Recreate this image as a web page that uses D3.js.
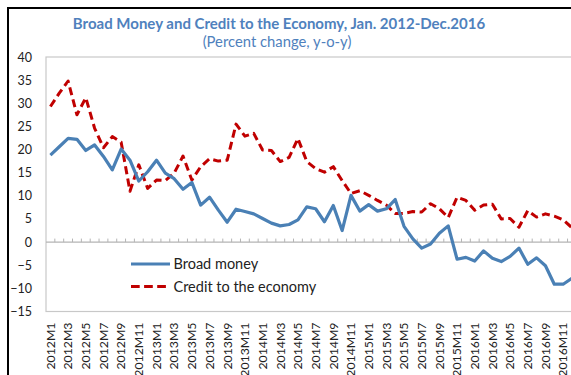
<!DOCTYPE html>
<html>
<head>
<meta charset="utf-8">
<script src="https://cdn.jsdelivr.net/npm/d3@7"></script>
<style>
  html, body { margin: 0; padding: 0; background: #fff; }
  svg { display: block; font-family: Lato, "Noto Sans", sans-serif; }
</style>
</head>
<body>
<svg id="chart" width="571" height="375"></svg>
<script>
// Monthly categories, Jan. 2012 - Dec. 2016
const years = [2012, 2013, 2014, 2015, 2016];
const months = [1, 2, 3, 4, 5, 6, 7, 8, 9, 10, 11, 12];
const categories = [];
years.forEach(y => months.forEach(m => categories.push(y + "M" + m)));

// Year-on-year percent change
const broadMoney = [
  18.8, 20.6, 22.4, 22.2, 19.8, 21.0, 18.5, 15.6, 20.1, 17.7, 13.2, 15.2,
  17.7, 14.9, 13.7, 11.4, 12.9, 8.0, 9.7, 6.9, 4.3, 7.1, 6.6, 6.1,
  5.1, 4.1, 3.5, 3.8, 4.8, 7.6, 7.2, 4.4, 7.9, 2.5, 10.1, 6.7,
  8.1, 6.7, 7.2, 9.2, 3.4, 0.7, -1.3, -0.4, 1.9, 3.5, -3.7, -3.3,
  -4.1, -1.9, -3.5, -4.2, -3.1, -1.3, -4.8, -3.4, -5.1, -9.1, -9.1, -7.8
];
const creditToEconomy = [
  29.3, 32.2, 34.8, 27.5, 31.2, 24.6, 20.4, 22.8, 21.6, 11.0, 16.7, 11.6,
  13.4, 13.3, 14.9, 18.6, 13.4, 16.3, 18.0, 17.5, 17.7, 25.5, 22.9, 23.5,
  19.9, 19.8, 17.4, 18.3, 22.4, 17.4, 15.9, 15.1, 16.3, 13.3, 10.5, 11.1,
  10.1, 9.0, 8.0, 6.2, 6.2, 6.6, 6.5, 8.3, 7.2, 5.3, 9.7, 9.0,
  6.9, 8.0, 8.2, 5.0, 5.1, 3.2, 6.8, 5.4, 6.1, 5.6, 4.8, 3.1
];
const yTicks = [-15, -10, -5, 0, 5, 10, 15, 20, 25, 30, 35, 40];
const seriesNames = ["Broad money", "Credit to the economy"];

const title = "Broad Money and Credit to the Economy, Jan. 2012-Dec.2016";
const subtitle = "(Percent change, y-o-y)";

const svg = d3.select("#chart");
const plot = { left: 46, top: 57, bottom: 311.5, step: 8.84 };
plot.right = plot.left + plot.step * categories.length;

const x = d3.scaleBand().domain(categories).range([plot.left, plot.right]).padding(0);
const y = d3.scaleLinear().domain([-15, 40]).range([plot.bottom, plot.top]);
const cx = c => x(c) + x.bandwidth() / 2;

// Outer frame
svg.append("rect")
  .attr("x", 8).attr("y", 8).attr("width", 700).attr("height", 500)
  .attr("fill", "none").attr("stroke", "#000").attr("stroke-width", 2);

// Titles
svg.append("text")
  .attr("x", 279).attr("y", 28.5)
  .attr("text-anchor", "middle")
  .attr("fill", "#4f81bd").attr("font-weight", "bold").attr("font-size", 15)
  .text(title);
svg.append("text")
  .attr("x", 277).attr("y", 46.5)
  .attr("text-anchor", "middle")
  .attr("fill", "#4f81bd").attr("font-size", 14.8)
  .text(subtitle);

// Plot area border
svg.append("rect")
  .attr("x", plot.left).attr("y", plot.top)
  .attr("width", plot.right - plot.left).attr("height", plot.bottom - plot.top)
  .attr("fill", "none").attr("stroke", "#c8c8c8").attr("stroke-width", 1.2);

// Value axis labels
const yAxis = svg.append("g")
  .attr("transform", `translate(${plot.left - 14},0)`)
  .call(d3.axisLeft(y).tickValues(yTicks).tickSize(0).tickPadding(0));
yAxis.select(".domain").remove();
yAxis.selectAll("text")
  .attr("font-family", "Lato, 'Noto Sans', sans-serif")
  .attr("font-size", 12.5).attr("fill", "#222");

// Category axis along zero with small tick marks between months
svg.append("line")
  .attr("x1", plot.left).attr("x2", plot.right)
  .attr("y1", y(0)).attr("y2", y(0))
  .attr("stroke", "#b4b4b4").attr("stroke-width", 1.2);
svg.append("g").selectAll("line")
  .data(categories.slice(1))
  .join("line")
  .attr("x1", d => x(d)).attr("x2", d => x(d))
  .attr("y1", y(0)).attr("y2", y(0) - 3.5)
  .attr("stroke", "#b4b4b4").attr("stroke-width", 1);

// Category labels, every other month, rotated
const xAxis = svg.append("g")
  .attr("transform", `translate(0,${plot.bottom})`)
  .call(d3.axisBottom(x).tickValues(categories.filter((d, i) => i % 2 === 0)).tickSize(0));
xAxis.select(".domain").remove();
xAxis.selectAll("text")
  .attr("font-family", "Lato, 'Noto Sans', sans-serif")
  .attr("font-size", 12.3).attr("fill", "#222")
  .attr("transform", "rotate(-90)")
  .attr("text-anchor", "end")
  .attr("x", -11).attr("y", 0).attr("dy", "0.35em");

// Series lines
const line = d3.line()
  .x((d, i) => cx(categories[i]))
  .y(d => y(d));

svg.append("path")
  .datum(creditToEconomy)
  .attr("d", line)
  .attr("fill", "none").attr("stroke", "#c00000").attr("stroke-width", 3)
  .attr("stroke-dasharray", "8,4.5").attr("stroke-linejoin", "round");

svg.append("path")
  .datum(broadMoney)
  .attr("d", line)
  .attr("fill", "none").attr("stroke", "#4a80b5").attr("stroke-width", 3.2)
  .attr("stroke-linejoin", "round");

// Legend
const legend = svg.append("g");
const legendItems = [
  { name: seriesNames[0], color: "#4a80b5", dash: null, y: 264 },
  { name: seriesNames[1], color: "#c00000", dash: "8.7,4.4", y: 286.5 }
];
legendItems.forEach(item => {
  legend.append("line")
    .attr("x1", 131).attr("x2", item.dash ? 166 : 170)
    .attr("y1", item.y).attr("y2", item.y)
    .attr("stroke", item.color).attr("stroke-width", 3)
    .attr("stroke-dasharray", item.dash);
  legend.append("text")
    .attr("x", 173.5).attr("y", item.y + 5)
    .attr("font-size", 14.5).attr("fill", "#222")
    .text(item.name);
});
</script>
</body>
</html>
